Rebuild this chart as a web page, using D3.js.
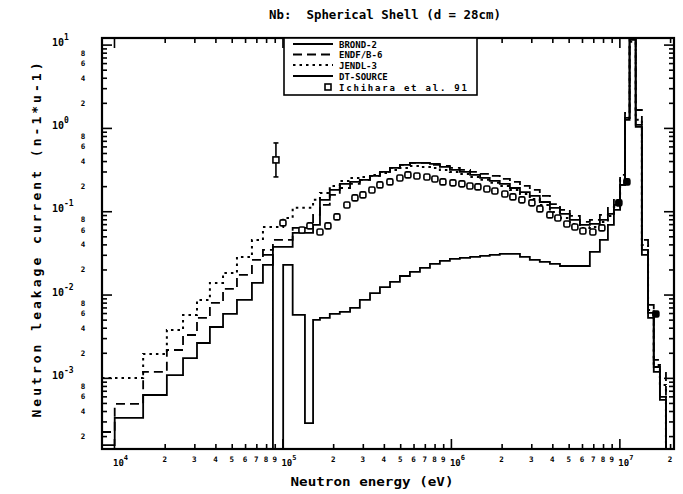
<!DOCTYPE html>
<html><head><meta charset="utf-8">
<script src="https://cdn.jsdelivr.net/npm/d3@7"></script>
<style>body{margin:0;background:#fff}svg{display:block}</style>
</head><body>
<svg id="c" width="683" height="494"></svg>
<script>
// ---- DATA ----
const binEdges = [8.49e3,1.01e4,1.49e4,2.06e4,2.57e4,3.11e4,3.71e4,4.44e4,5.37e4,6.59e4,7.66e4,8.78e4,1.01e5,1.15e5,1.36e5,1.52e5,1.67e5,1.91e5,2.19e5,2.52e5,2.88e5,3.31e5,3.79e5,4.35e5,4.98e5,5.71e5,6.55e5,7.51e5,8.60e5,9.86e5,1.13e6,1.30e6,1.49e6,1.70e6,1.95e6,2.24e6,2.57e6,2.94e6,3.37e6,3.87e6,4.44e6,5.08e6,5.83e6,6.68e6,7.66e6,8.55e6,9.28e6,1.01e7,1.08e7,1.15e7,1.25e7,1.36e7,1.48e7,1.60e7,1.74e7,1.89e7,2.11e7];
const brond2 = [1.56e-4,3.30e-4,6.23e-4,1.08e-3,1.73e-3,2.62e-3,4.08e-3,5.85e-3,8.61e-3,1.38e-2,2.27e-2,3.73e-2,3.73e-2,5.49e-2,5.49e-2,6.85e-2,0.137,0.180,0.213,0.225,0.238,0.265,0.296,0.331,0.360,0.380,0.380,0.370,0.340,0.313,0.296,0.273,0.251,0.231,0.213,0.190,0.170,0.153,0.129,0.110,0.0928,0.0786,0.0685,0.0704,0.0786,0.0928,0.119,0.207,1.25,11.4,1.03,0.0343,6.01e-3,1.35e-3,5.90e-4,1e-5];
const endfb6 = [2.24e-4,4.86e-4,1.18e-3,2.16e-3,3.27e-3,5.24e-3,7.93e-3,1.17e-2,1.72e-2,2.60e-2,3.43e-2,4.52e-2,4.52e-2,6.30e-2,6.30e-2,9.03e-2,0.119,0.157,0.190,0.213,0.238,0.265,0.296,0.331,0.360,0.380,0.380,0.360,0.350,0.331,0.313,0.296,0.280,0.265,0.244,0.225,0.201,0.180,0.153,0.122,0.104,0.0878,0.0744,0.0786,0.0903,0.110,0.137,0.273,1.51,12.7,1.64,0.0452,7.50e-3,1.64e-3,1.15e-3,1e-5];
const jendl3 = [9.97e-4,9.97e-4,1.94e-3,3.76e-3,5.69e-3,8.61e-3,1.38e-2,1.82e-2,2.83e-2,4.52e-2,6.48e-2,6.48e-2,8.31e-2,0.110,0.110,0.137,0.166,0.201,0.231,0.251,0.258,0.273,0.288,0.313,0.331,0.350,0.340,0.331,0.313,0.296,0.280,0.258,0.238,0.219,0.201,0.180,0.161,0.140,0.119,0.098,0.0831,0.0704,0.0630,0.0648,0.0744,0.0878,0.113,0.238,1.32,10.8,1.25,0.0394,6.53e-3,1.43e-3,8.22e-4,1e-5];
const dtSource = [null,null,null,null,null,null,null,null,null,null,0.0299,1e-5,0.0227,5.69e-3,2.87e-4,4.96e-3,5.24e-3,5.85e-3,6.18e-3,6.90e-3,8.61e-3,1.04e-2,1.23e-2,1.42e-2,1.67e-2,1.87e-2,2.09e-2,2.33e-2,2.53e-2,2.68e-2,2.75e-2,2.83e-2,2.91e-2,2.99e-2,3.07e-2,3.07e-2,2.83e-2,2.60e-2,2.46e-2,2.33e-2,2.20e-2,2.20e-2,2.20e-2,3.25e-2,4.52e-2,6.85e-2,0.104,0.207,1.32,12.0,1.09,0.0299,5.24e-3,1.18e-3,5.43e-4,1e-5];
const expEnergy = [1.007e5,1.305e5,1.456e5,1.670e5,1.862e5,2.106e5,2.414e5,2.694e5,3.004e5,3.398e5,3.790e5,4.345e5,4.981e5,5.556e5,6.284e5,7.204e5,8.035e5,8.964e5,1.028e6,1.162e6,1.297e6,1.446e6,1.635e6,1.824e6,2.091e6,2.333e6,2.638e6,3.025e6,3.375e6,3.868e6,4.315e6,4.880e6,5.444e6,6.073e6,6.962e6,7.873e6,9.93e6,1.108e7,1.647e7];
const expValue  = [0.0724,0.0596,0.0667,0.0564,0.0667,0.0855,0.119,0.1445,0.157,0.180,0.207,0.225,0.251,0.273,0.265,0.258,0.244,0.225,0.219,0.213,0.201,0.196,0.185,0.175,0.161,0.1485,0.137,0.126,0.1066,0.0903,0.0831,0.0704,0.0648,0.0580,0.0564,0.0631,0.126,0.225,0.00585];
const outlierE = 9.15e4, outlierV = 0.413, outlierLo = 0.258, outlierHi = 0.660;
const seriesNames = ["BROND-2","ENDF/B-6","JENDL-3","DT-SOURCE"];
const expName = "Ichihara et al. 91";
const titleText = "Nb:  Spherical Shell (d = 28cm)";
const xTitle = "Neutron energy (eV)";
const yTitle = "Neutron leakage current (n-1*u-1)";
const yMinorLabelDigits = [2,4,6,8];

// ---- CHART ----
const L=102,R=674,T=38,B=449;
const FONT = "'DejaVu Sans Mono', monospace";
const svg = d3.select("#c");
svg.append("rect").attr("width",683).attr("height",494).attr("fill","#fff");
const x = d3.scaleLog().domain([8.49e3,2.11e7]).range([L,R]);
const y = d3.scaleLog().domain([1.4e-4,12]).range([B,T]);

svg.append("defs").append("clipPath").attr("id","clip")
  .append("rect").attr("x",L).attr("y",T).attr("width",R-L).attr("height",B-T);

const isMajor = d => Math.abs(Math.log10(d)-Math.round(Math.log10(d)))<1e-6;
const lead = d => Math.round(d/Math.pow(10,Math.floor(Math.log10(d)+1e-9)));
const xt = x.ticks().filter(d=>d>=9.99e3);
const yt = y.ticks();
const xMaj = xt.filter(isMajor), xMin = xt.filter(d=>!isMajor(d));
const yMaj = yt.filter(isMajor), yMin = yt.filter(d=>!isMajor(d));

function ax(fn, sc, vals, size, tr){
  const g = svg.append("g").attr("transform",tr)
    .call(fn(sc).tickValues(vals).tickSize(size).tickFormat(""));
  g.select(".domain").remove();
  g.selectAll("line").attr("stroke","#000").attr("stroke-width",1.6);
  return g;
}
ax(d3.axisBottom,x,xMaj,-10,`translate(0,${B})`);
ax(d3.axisBottom,x,xMin,-5,`translate(0,${B})`);
ax(d3.axisTop,x,xMaj,-10,`translate(0,${T})`);
ax(d3.axisTop,x,xMin,-5,`translate(0,${T})`);
ax(d3.axisLeft,y,yMaj,-10,`translate(${L},0)`);
ax(d3.axisLeft,y,yMin,-5,`translate(${L},0)`);
ax(d3.axisRight,y,yMaj,-10,`translate(${R},0)`);
ax(d3.axisRight,y,yMin,-5,`translate(${R},0)`);

// frame
svg.append("rect").attr("x",L).attr("y",T).attr("width",R-L).attr("height",B-T)
  .attr("fill","none").attr("stroke","#000").attr("stroke-width",2.2);

// x labels
xMaj.forEach(d=>{
  const t = svg.append("text").attr("x",x(d)-1).attr("y",466).attr("text-anchor","start")
    .attr("font-family",FONT).attr("font-weight","bold").attr("font-size",9);
  t.append("tspan").text("10");
  t.append("tspan").attr("dy",-6).attr("font-size",7).text(Math.round(Math.log10(d)));
});
xMin.forEach(d=>{
  svg.append("text").attr("x",x(d)).attr("y",462).attr("text-anchor","middle")
    .attr("font-family",FONT).attr("font-weight","bold").attr("font-size",7.5).text(lead(d));
});
// y labels
yMaj.forEach(d=>{
  const t = svg.append("text").attr("x",52).attr("y",y(d)+1).attr("text-anchor","start")
    .attr("font-family",FONT).attr("font-weight","bold").attr("font-size",10);
  t.append("tspan").text("10");
  t.append("tspan").attr("dy",-6).attr("font-size",8).text(Math.round(Math.log10(d)));
});
yMin.filter(d=>yMinorLabelDigits.includes(lead(d))).forEach(d=>{
  svg.append("text").attr("x",83).attr("y",y(d)+3).attr("text-anchor","middle")
    .attr("font-family",FONT).attr("font-weight","bold").attr("font-size",7.5).text(lead(d));
});

// titles
svg.append("text").attr("x",385).attr("y",19).attr("text-anchor","middle")
  .attr("font-family",FONT).attr("font-weight","bold").attr("font-size",13)
  .style("white-space","pre")
  .attr("textLength",232).attr("lengthAdjust","spacingAndGlyphs").text(titleText);
svg.append("text").attr("x",372).attr("y",486).attr("text-anchor","middle")
  .attr("font-family",FONT).attr("font-weight","bold").attr("font-size",13)
  .attr("textLength",163).attr("lengthAdjust","spacingAndGlyphs").text(xTitle);
svg.append("text").attr("transform","translate(41,240) rotate(-90)").attr("text-anchor","middle")
  .attr("font-family",FONT).attr("font-weight","bold").attr("font-size",13)
  .attr("textLength",355).attr("lengthAdjust","spacing").text(yTitle);

// curves
const styles = [
  {dash:null, w:1.8},
  {dash:"9,5", w:1.8},
  {dash:"2.5,4", w:2},
  {dash:null, w:1.8}
];
const plot = svg.append("g").attr("clip-path","url(#clip)");
const line = d3.line().x(d=>x(d[0])).y(d=>y(d[1])).curve(d3.curveStepAfter);
[brond2,endfb6,jendl3,dtSource].forEach((vals,si)=>{
  const pts = [];
  let last = null, lastIdx = -1;
  vals.forEach((v,i)=>{ if(v!==null){ pts.push([binEdges[i],v]); last=v; lastIdx=i; } });
  pts.push([binEdges[lastIdx+1], last]);
  const p = plot.append("path").attr("d",line(pts)).attr("fill","none")
    .attr("stroke","#000").attr("stroke-width",styles[si].w).attr("stroke-linejoin","miter");
  if(styles[si].dash) p.attr("stroke-dasharray",styles[si].dash);
});

// experimental points
const sq = 6;
plot.append("line").attr("x1",x(outlierE)).attr("x2",x(outlierE))
  .attr("y1",y(outlierHi)).attr("y2",y(outlierLo)).attr("stroke","#000").attr("stroke-width",1.6);
[outlierHi,outlierLo].forEach(v=>plot.append("line").attr("x1",x(outlierE)-2.5).attr("x2",x(outlierE)+2.5)
  .attr("y1",y(v)).attr("y2",y(v)).attr("stroke","#000").attr("stroke-width",1.6));
plot.append("rect").attr("x",x(outlierE)-sq/2).attr("y",y(outlierV)-sq/2).attr("width",sq).attr("height",sq)
  .attr("fill","#fff").attr("stroke","#000").attr("stroke-width",1.6);
plot.selectAll("rect.exp").data(expEnergy.map((e,i)=>[e,expValue[i]])).enter().append("rect")
  .attr("class","exp").attr("x",d=>x(d[0])-sq/2).attr("y",d=>y(d[1])-sq/2)
  .attr("width",sq).attr("height",sq).attr("rx",1.5)
  .attr("fill",d=>d[0]>9e6?"#000":"#fff").attr("stroke","#000").attr("stroke-width",1.6);

// legend
const lg = svg.append("g");
lg.append("rect").attr("x",284).attr("y",T).attr("width",193).attr("height",57)
  .attr("fill","#fff").attr("stroke","#000").attr("stroke-width",1.6);
const ly = [44,54.5,65,76];
seriesNames.forEach((n,i)=>{
  const l = lg.append("line").attr("x1",293).attr("x2",333).attr("y1",ly[i]).attr("y2",ly[i])
    .attr("stroke","#000").attr("stroke-width",styles[i].w);
  if(styles[i].dash) l.attr("stroke-dasharray",styles[i].dash);
  lg.append("text").attr("x",339).attr("y",ly[i]+3.5).attr("font-family",FONT)
    .attr("font-weight","bold").attr("font-size",9).text(n);
});
lg.append("rect").attr("x",325).attr("y",84).attr("width",sq).attr("height",sq)
  .attr("fill","#fff").attr("stroke","#000").attr("stroke-width",1.6);
lg.append("text").attr("x",339).attr("y",90.5).attr("font-family",FONT)
  .attr("font-weight","bold").attr("font-size",9).attr("textLength",128)
  .attr("lengthAdjust","spacing").text(expName);
</script>
</body></html>
